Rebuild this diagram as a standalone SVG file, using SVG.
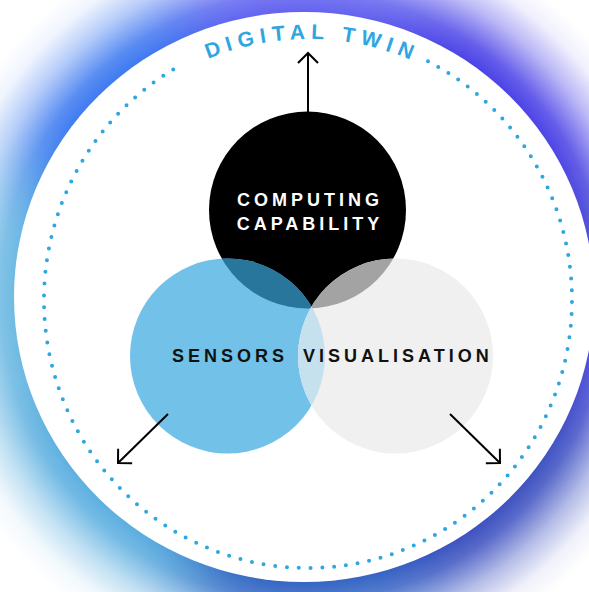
<svg xmlns="http://www.w3.org/2000/svg" width="589" height="592" viewBox="0 0 589 592">
<style>
.lbl{font-family:"Liberation Sans",Arial,Helvetica,sans-serif;font-weight:bold;font-size:18px;letter-spacing:4px;}
.arrow{fill:none;stroke:#000;stroke-width:2;marker-end:url(#arr);}
.dots{fill:none;stroke:#2ea6df;stroke-width:4;stroke-linecap:round;stroke-dasharray:0 11.8;}
</style>
<defs>
<filter id="soft" filterUnits="userSpaceOnUse" x="-300" y="-300" width="1200" height="1200">
<feGaussianBlur stdDeviation="38"/>
</filter>
<radialGradient id="fade" gradientUnits="userSpaceOnUse" cx="304" cy="297" r="385">
<stop offset="0" stop-color="#fff" stop-opacity="1"/>
<stop offset="0.74" stop-color="#fff" stop-opacity="1"/>
<stop offset="0.79" stop-color="#fff" stop-opacity="0.85"/>
<stop offset="0.87" stop-color="#fff" stop-opacity="0.38"/>
<stop offset="0.94" stop-color="#fff" stop-opacity="0.08"/>
<stop offset="1" stop-color="#fff" stop-opacity="0"/>
</radialGradient>
<mask id="fadeMask" maskUnits="userSpaceOnUse" x="0" y="0" width="589" height="592">
<rect x="0" y="0" width="589" height="592" fill="url(#fade)"/>
</mask>
<clipPath id="clipBlack"><circle cx="307.5" cy="210" r="98.5"/></clipPath>
<clipPath id="clipBlue"><circle cx="227.5" cy="356" r="97.5"/></clipPath>
<marker id="arr" markerUnits="userSpaceOnUse" viewBox="-15 -15 30 30" markerWidth="30" markerHeight="30" refX="0" refY="0" orient="auto" overflow="visible">
<path d="M -10 -10 L 0 0 L -10 10" fill="none" stroke="#000" stroke-width="2"/>
</marker>
<path id="twinArc" d="M 47 300 A 261 261 0 0 1 569 300"/>
</defs>

<g id="background">
<rect x="0" y="0" width="589" height="592" fill="#fff"/>
<g mask="url(#fadeMask)">
<g filter="url(#soft)">
<path fill="#4848d6" d="M304 297 L765.9 488.3 L765.9 105.7Z"/>
<path fill="#4a40e6" d="M304 297 L765.9 105.7 L495.3 -164.9Z"/>
<path fill="#6464f0" d="M304 297 L495.3 -164.9 L112.7 -164.9Z"/>
<path fill="#3a78f0" d="M304 297 L112.7 -164.9 L-157.9 105.7Z"/>
<path fill="#6ab8e2" d="M304 297 L-157.9 105.7 L-157.9 488.3Z"/>
<path fill="#5aaee0" d="M304 297 L-157.9 488.3 L112.7 758.9Z"/>
<path fill="#3466c4" d="M304 297 L112.7 758.9 L495.3 758.9Z"/>
<path fill="#3a50c0" d="M304 297 L495.3 758.9 L765.9 488.3Z"/>
</g>
</g>
<ellipse cx="304" cy="297" rx="290" ry="285" fill="#fff"/>
</g>

<g id="digital-twin">
<path class="dots" d="M 428 61.3 A 264 268 0 1 1 180 65.6"/>
<text class="lbl" style="font-size:21px;letter-spacing:6px" fill="#2ea6df"><textPath href="#twinArc" startOffset="414" text-anchor="middle">DIGITAL TWIN</textPath></text>
</g>

<g id="computing-capability">
<circle cx="307.5" cy="210" r="98.5" fill="#000"/>
<text class="lbl" fill="#fff" text-anchor="middle" x="310" y="206">COMPUTING</text>
<text class="lbl" fill="#fff" text-anchor="middle" x="310" y="230">CAPABILITY</text>
</g>

<g id="sensors">
<circle cx="227.5" cy="356" r="97.5" fill="#71c1e8"/>
</g>

<g id="visualisation">
<circle cx="395.5" cy="356" r="97.5" fill="#f0f0f0"/>
</g>

<g id="overlaps">
<circle cx="227.5" cy="356" r="97.5" fill="#28769c" clip-path="url(#clipBlack)"/>
<circle cx="395.5" cy="356" r="97.5" fill="#a3a3a3" clip-path="url(#clipBlack)"/>
<circle cx="395.5" cy="356" r="97.5" fill="#c6e1ee" clip-path="url(#clipBlue)"/>
</g>

<g id="labels">
<text class="lbl" fill="#111" x="172" y="362">SENSORS</text>
<text class="lbl" fill="#111" x="303" y="362">VISUALISATION</text>
</g>

<g id="connectors">
<path class="arrow" d="M 308 112 L 308 53"/>
<path class="arrow" d="M 168 414 L 118 463"/>
<path class="arrow" d="M 450 414 L 500 463"/>
</g>
</svg>
